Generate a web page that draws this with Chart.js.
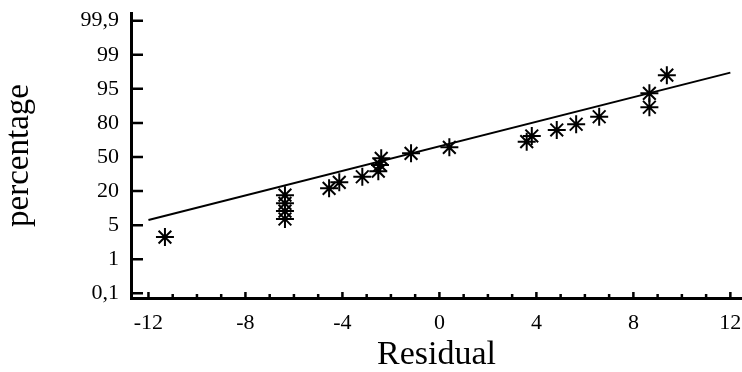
<!DOCTYPE html>
<html>
<head>
<meta charset="utf-8">
<script src="https://cdn.jsdelivr.net/npm/chart.js@4.4.1/dist/chart.umd.min.js"></script>
<style>
  body { margin: 0; background: #fff; }
</style>
</head>
<body>
<canvas id="myChart" width="742" height="372"></canvas>
<script>
let chart = document.getElementById('myChart');

// probability axis: tick percentages and their printed labels
const tick_pct = [0.1, 1, 5, 20, 50, 80, 95, 99, 99.9];
const tick_text = ['0,1', '1', '5', '20', '50', '80', '95', '99', '99,9'];
const x_ticks = [-12, -8, -4, 0, 4, 8, 12];

// residuals and their cumulative percentage
const residual = [-11.32, -6.37, -6.37, -6.37, -6.37, -4.55, -4.13, -3.18, -2.52, -2.45, -2.40,
                  -1.17, 0.41, 3.60, 3.81, 4.84, 5.64, 6.59, 8.66, 8.66, 9.38];
const percent = [3.6, 7.7, 11.2, 14.6, 18.2, 22.4, 27.7, 32.6, 37.5, 43, 48.8,
                 53.2, 58.5, 63.5, 68.5, 73.8, 78.8, 82.7, 86.9, 93.0, 96.6];

// fitted line ends
const fit_x = [-12, 12];
const fit_pct = [7.3, 96.9];

// percentage -> position on the probability axis (one unit per labelled tick)
function pctToPos(p) {
    for (let i = 0; i < tick_pct.length - 1; i++) {
        if (p <= tick_pct[i + 1]) {
            return i + (p - tick_pct[i]) / (tick_pct[i + 1] - tick_pct[i]);
        }
    }
    return tick_pct.length - 1;
}

const serif = 'Liberation Serif, Times New Roman, serif';

// tick marks point inwards
const innerTicks = {
    id: 'innerTicks',
    afterDraw(c) {
        const ctx = c.ctx;
        const a = c.chartArea;
        const xs = c.scales.x;
        const ys = c.scales.y;
        ctx.save();
        ctx.strokeStyle = '#000';
        ctx.lineWidth = 2.5;
        ctx.beginPath();
        tick_pct.forEach((p, i) => {
            const py = ys.getPixelForValue(i);
            ctx.moveTo(a.left, py);
            ctx.lineTo(a.left + 12, py);
        });
        for (let v = -12; v <= 12; v++) {
            const px = xs.getPixelForValue(v);
            const len = v % 4 === 0 ? 6 : 4;
            ctx.moveTo(px, a.bottom);
            ctx.lineTo(px, a.bottom - len);
        }
        ctx.stroke();
        ctx.restore();
    }
};

let config = {
    type: 'scatter',
    data: {
        datasets: [{
            label: 'residuals',
            data: residual.map((r, i) => ({x: r, y: pctToPos(percent[i])})),
            pointStyle: 'star',
            pointRadius: 9,
            borderColor: '#000',
            backgroundColor: '#000',
            borderWidth: 2
        }, {
            label: 'fit',
            type: 'line',
            data: fit_x.map((r, i) => ({x: r, y: pctToPos(fit_pct[i])})),
            borderColor: '#000',
            borderWidth: 2,
            pointRadius: 0,
            fill: false
        }]
    },
    options: {
        responsive: false,
        animation: false,
        layout: { autoPadding: false, padding: { top: 13, right: 0, left: 0, bottom: 0 } },
        plugins: {
            legend: { display: false },
            tooltip: { enabled: false }
        },
        scales: {
            x: {
                type: 'linear',
                min: -12.72,
                max: 12.48,
                afterBuildTicks: (s) => { s.ticks = x_ticks.map(v => ({value: v})); },
                afterFit: (s) => {
                    s.height = 74;
                    s.paddingLeft = 0;
                    s.paddingRight = 0;
                },
                grid: { display: false, drawTicks: false },
                border: { display: true, color: '#000', width: 3 },
                ticks: {
                    color: '#000',
                    padding: 12,
                    maxRotation: 0,
                    font: { family: serif, size: 22 }
                },
                title: {
                    display: true,
                    text: 'Residual',
                    color: '#000',
                    padding: 0,
                    font: { family: serif, size: 34, lineHeight: 1 }
                }
            },
            y: {
                type: 'linear',
                min: -0.138,
                max: 8.225,
                afterBuildTicks: (s) => { s.ticks = tick_pct.map((p, i) => ({value: i})); },
                afterFit: (s) => {
                    s.width = 131;
                    s.paddingTop = 0;
                    s.paddingBottom = 0;
                },
                grid: { display: false, drawTicks: false },
                border: { display: true, color: '#000', width: 3 },
                ticks: {
                    color: '#000',
                    padding: 12,
                    font: { family: serif, size: 22 },
                    callback: (v, i) => tick_text[i]
                },
                title: {
                    display: true,
                    text: 'percentage',
                    color: '#000',
                    padding: { top: 3, bottom: 0 },
                    font: { family: serif, size: 33, lineHeight: 1 }
                }
            }
        }
    },
    plugins: [innerTicks]
};

window.onload = () => {
    new Chart(chart, config);
};
</script>
</body>
</html>
